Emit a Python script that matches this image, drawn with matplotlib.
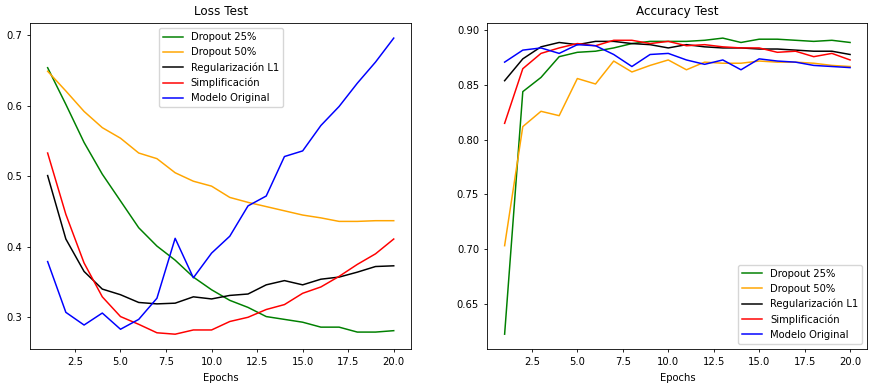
import matplotlib.pyplot as plt

epochs = list(range(1, 21))

loss_d25 = [0.654, 0.602, 0.548, 0.503, 0.465, 0.427, 0.401, 0.381, 0.357, 0.339,
            0.324, 0.314, 0.301, 0.297, 0.293, 0.286, 0.286, 0.279, 0.279, 0.281]
loss_d50 = [0.649, 0.621, 0.592, 0.569, 0.554, 0.533, 0.525, 0.505, 0.493, 0.486,
            0.470, 0.463, 0.457, 0.451, 0.445, 0.441, 0.436, 0.436, 0.437, 0.437]
loss_l1 = [0.501, 0.411, 0.365, 0.340, 0.332, 0.321, 0.319, 0.320, 0.329, 0.326,
           0.331, 0.333, 0.346, 0.352, 0.346, 0.354, 0.357, 0.364, 0.372, 0.373]
loss_simp = [0.533, 0.446, 0.377, 0.329, 0.301, 0.290, 0.278, 0.276, 0.282, 0.282,
             0.294, 0.300, 0.311, 0.318, 0.334, 0.343, 0.358, 0.375, 0.390, 0.411]
loss_orig = [0.379, 0.307, 0.289, 0.306, 0.283, 0.297, 0.327, 0.412, 0.356, 0.391,
             0.415, 0.458, 0.472, 0.528, 0.536, 0.572, 0.599, 0.632, 0.662, 0.696]

acc_d25 = [0.622, 0.844, 0.857, 0.876, 0.880, 0.881, 0.884, 0.888, 0.890, 0.890,
           0.890, 0.891, 0.893, 0.889, 0.892, 0.892, 0.891, 0.890, 0.891, 0.889]
acc_d50 = [0.703, 0.812, 0.826, 0.822, 0.856, 0.851, 0.872, 0.862, 0.868, 0.873,
           0.864, 0.871, 0.870, 0.870, 0.872, 0.871, 0.871, 0.870, 0.868, 0.867]
acc_l1 = [0.854, 0.874, 0.885, 0.889, 0.887, 0.890, 0.890, 0.888, 0.887, 0.884,
          0.887, 0.885, 0.884, 0.884, 0.883, 0.883, 0.882, 0.881, 0.881, 0.878]
acc_simp = [0.815, 0.865, 0.879, 0.884, 0.888, 0.886, 0.891, 0.891, 0.888, 0.890,
            0.886, 0.887, 0.885, 0.884, 0.884, 0.880, 0.881, 0.876, 0.879, 0.873]
acc_orig = [0.871, 0.882, 0.884, 0.879, 0.887, 0.886, 0.878, 0.867, 0.878, 0.879,
            0.873, 0.869, 0.873, 0.864, 0.874, 0.872, 0.871, 0.868, 0.867, 0.866]

labels = ['Dropout 25%', 'Dropout 50%', 'Regularización L1', 'Simplificación', 'Modelo Original']
colors = ['green', 'orange', 'black', 'red', 'blue']

plt.rcParams['font.size'] = 7.2
fig = plt.figure(figsize=(8.74, 3.87), dpi=100)
ax1 = fig.add_axes([0.0347, 0.0982, 0.4356, 0.8416])
ax2 = fig.add_axes([0.5576, 0.0982, 0.4348, 0.8416])

for series, lab, col in zip([loss_d25, loss_d50, loss_l1, loss_simp, loss_orig], labels, colors):
    ax1.plot(epochs, series, color=col, label=lab, linewidth=1.08)
for series, lab, col in zip([acc_d25, acc_d50, acc_l1, acc_simp, acc_orig], labels, colors):
    ax2.plot(epochs, series, color=col, label=lab, linewidth=1.08)

ax1.set_title('Loss Test', fontsize=8.64)
ax2.set_title('Accuracy Test', fontsize=8.64)
ax1.set_xlabel('Epochs')
ax2.set_xlabel('Epochs')
ax1.legend(loc='upper center')
ax2.legend(loc='lower right')
for ax in (ax1, ax2):
    ax.tick_params(width=0.6, length=2.5)
    for s in ax.spines.values():
        s.set_linewidth(0.6)

fig.savefig('out.png', dpi=100)
